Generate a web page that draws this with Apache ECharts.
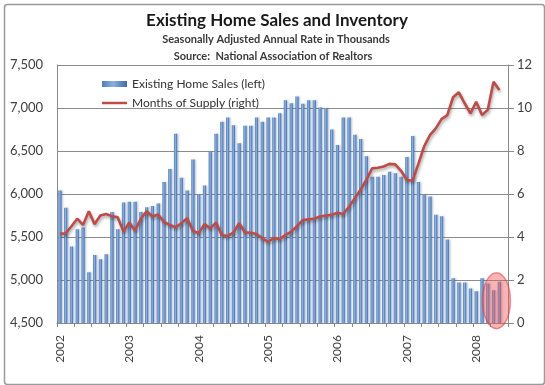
<!DOCTYPE html>
<html><head><meta charset="utf-8">
<script src="https://cdn.jsdelivr.net/npm/echarts@6/dist/echarts.min.js"></script>
<style>html,body{margin:0;padding:0;background:#fff}#c{width:545px;height:385px}</style>
</head><body><div id="c"></div>
<script>
// Category axis: Jan 2002 .. Jun 2008 (last slot empty)
const years = ['2002','2003','2004','2005','2006','2007','2008'];
const monthNames = ['01','02','03','04','05','06','07','08','09','10','11','12'];
const lastYearMonths = 6;

// Existing Home Sales (thousands, SAAR) - left axis
const sales2002 = [6040,5840,5390,5590,5610,5090,5290,5240,5300,5790,5590,5900];
const sales2003 = [5910,5910,5790,5845,5860,5890,6140,6290,6700,6190,6040,6400];
const sales2004 = [5990,6100,6490,6700,6840,6890,6800,6590,6795,6795,6890,6840];
const sales2005 = [6890,6890,6940,7090,7055,7135,7050,7090,7090,7005,7000,6750];
const sales2006 = [6570,6890,6890,6690,6640,6440,6200,6200,6220,6260,6240,6200];
const sales2007 = [6430,6675,6140,5990,5970,5760,5740,5470,5020,4970,4970,4900];
const sales2008 = [4870,5020,4960,4880,4980];

// Months of Supply - right axis
const supply2002 = [4.15,4.17,4.5,4.85,4.56,5.2,4.6,5.0,5.07,4.97,4.92,4.25];
const supply2003 = [4.68,4.3,4.85,5.2,4.95,5.05,4.7,4.56,4.45,4.64,4.87,4.29];
const supply2004 = [4.17,4.6,4.4,4.67,4.09,4.05,4.2,4.64,4.22,4.2,4.14,3.94];
const supply2005 = [3.78,3.95,3.9,4.09,4.25,4.5,4.79,4.82,4.85,4.95,5.0,5.03];
const supply2006 = [5.13,5.07,5.41,5.8,6.2,6.65,7.19,7.22,7.28,7.4,7.38,7.08];
const supply2007 = [6.65,6.62,7.4,8.22,8.74,9.05,9.48,9.67,10.5,10.73,10.22,9.75];
const supply2008 = [10.29,9.67,9.92,11.22,10.84];

const leftTicks = {min:4500, max:7500, step:500};
const rightTicks = {min:0, max:12, step:2};

const categories = [];
years.forEach((y, i) => {
  const n = (i === years.length - 1) ? lastYearMonths : 12;
  for (let m = 0; m < n; m++) categories.push(y + '-' + monthNames[m]);
});
const sales = [].concat(sales2002, sales2003, sales2004, sales2005, sales2006, sales2007, sales2008);
const supply = [].concat(supply2002, supply2003, supply2004, supply2005, supply2006, supply2007, supply2008);

const chart = echarts.init(document.getElementById('c'), null, {renderer: 'canvas'});
const FONT = 'Lato';
const barGrad = new echarts.graphic.LinearGradient(0, 0, 1, 0, [
  {offset: 0, color: '#4f7fbd'},
  {offset: 0.45, color: '#8db0dc'},
  {offset: 1, color: '#3e6aa8'}
]);
const legendText = {fontFamily: FONT, fontSize: 12, color: '#333'};

chart.setOption({
  animation: false,
  backgroundColor: '#fff',
  title: [
    {text: 'Existing Home Sales and Inventory', left: 272, top: 7, textAlign: 'center',
     textStyle: {fontFamily: FONT, fontSize: 17, fontWeight: 'bold', color: '#1a1a1a'}},
    {text: 'Seasonally Adjusted Annual Rate in Thousands', left: 271, top: 29, textAlign: 'center',
     textStyle: {fontFamily: FONT, fontSize: 11, fontWeight: 'bold', color: '#3a3a3a'}},
    {text: 'Source:  National Association of Realtors', left: 268, top: 46, textAlign: 'center',
     textStyle: {fontFamily: FONT, fontSize: 11, fontWeight: 'bold', color: '#3a3a3a'}}
  ],
  legend: [
    {left: 97, top: 73, itemWidth: 25, itemHeight: 6, textStyle: legendText,
     data: [{name: 'Existing Home Sales (left)', icon: 'rect'}]},
    {left: 97, top: 92, itemWidth: 25, itemHeight: 2.5, textStyle: legendText,
     data: [{name: 'Months of Supply (right)', icon: 'rect'}]}
  ],
  grid: {left: 57, right: 37, top: 65, bottom: 62, containLabel: false},
  xAxis: {
    type: 'category', data: categories, boundaryGap: true,
    axisLine: {show: true, lineStyle: {color: '#8a8a8a', width: 1}},
    axisTick: {show: true, interval: 2, length: 4, lineStyle: {color: '#8a8a8a'}},
    axisLabel: {interval: 11, rotate: 90, margin: 12, fontFamily: FONT, fontSize: 12, color: '#404040',
      formatter: v => v.slice(0, 4)},
    splitLine: {show: false}
  },
  yAxis: [
    {type: 'value', position: 'left', min: leftTicks.min, max: leftTicks.max, interval: leftTicks.step,
     axisLine: {show: true, lineStyle: {color: '#8a8a8a'}}, axisTick: {show: false},
     axisLabel: {margin: 14, fontFamily: FONT, fontSize: 13, color: '#404040',
       formatter: v => v.toLocaleString('en-US')},
     splitLine: {show: true, lineStyle: {color: '#8c8c8c', width: 1}}},
    {type: 'value', position: 'right', min: rightTicks.min, max: rightTicks.max, interval: rightTicks.step,
     axisLine: {show: true, lineStyle: {color: '#8a8a8a'}},
     axisTick: {show: true, length: 6, lineStyle: {color: '#8a8a8a'}},
     axisLabel: {margin: 9, fontFamily: FONT, fontSize: 13, color: '#404040'},
     splitLine: {show: false}}
  ],
  series: [
    {name: 'Existing Home Sales (left)', type: 'bar', yAxisIndex: 0, data: sales, barWidth: '56%',
     itemStyle: {color: barGrad, shadowColor: 'rgba(60,90,140,0.35)', shadowBlur: 2, shadowOffsetX: 1.5, shadowOffsetY: 0}},
    {name: 'Months of Supply (right)', type: 'line', yAxisIndex: 1, data: supply, symbol: 'none',
     itemStyle: {color: '#be4b48'},
     lineStyle: {color: '#be4b48', width: 2.6, shadowColor: 'rgba(0,0,0,0.35)', shadowBlur: 3, shadowOffsetX: 1, shadowOffsetY: 2}}
  ]
});

// annotation ellipse around the latest bars + outer frame
const x1 = chart.convertToPixel({xAxisIndex: 0}, categories[categories.length - 3]);
const x2 = chart.convertToPixel({xAxisIndex: 0}, categories[categories.length - 2]);
const yc = chart.convertToPixel({yAxisIndex: 0}, 4760);
chart.setOption({
  graphic: [
    {type: 'rect', left: 2, top: 2, shape: {width: 540, height: 380, r: 3}, silent: true,
     style: {fill: 'none', stroke: '#9a9a9a', lineWidth: 1.5}},
    {type: 'ellipse', shape: {cx: (x1 + x2) / 2, cy: yc, rx: 14, ry: 28}, silent: true, z: 100,
     style: {fill: 'rgba(240,90,90,0.45)', stroke: 'rgba(215,70,70,0.55)', lineWidth: 1.5}}
  ]
});
</script></body></html>
